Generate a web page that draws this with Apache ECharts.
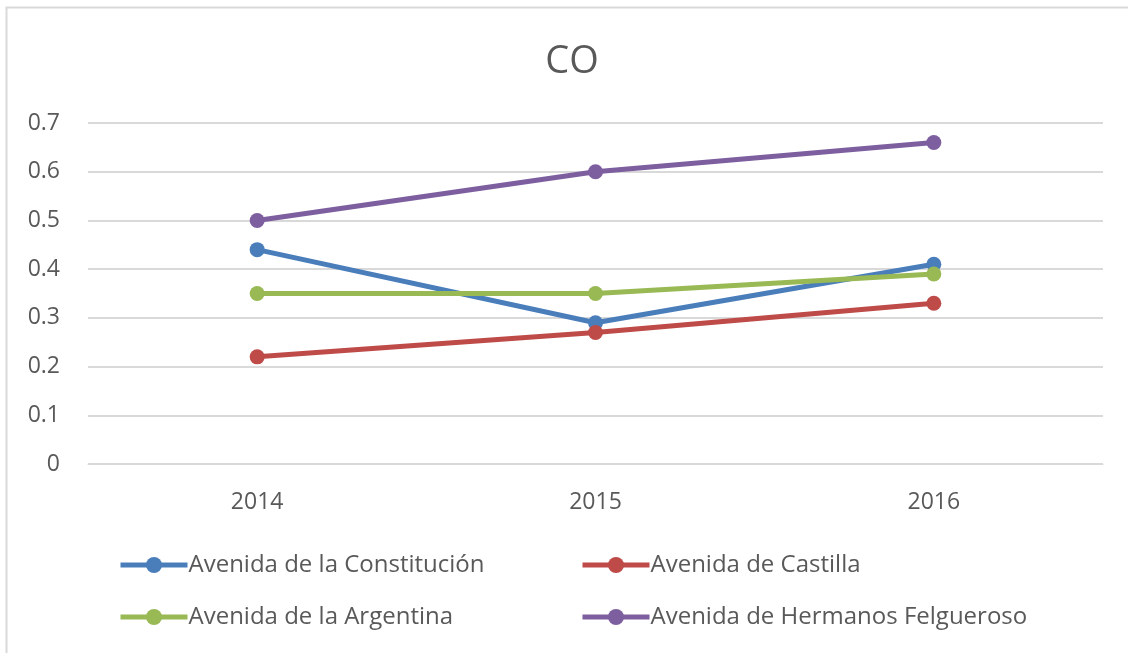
<!DOCTYPE html>
<html>
<head>
<meta charset="utf-8">
<title>CO</title>
<script src="https://cdn.jsdelivr.net/npm/echarts@6/dist/echarts.min.js"></script>
<style>
  html, body { margin: 0; padding: 0; background: #fff; }
  #chart { width: 1128px; height: 653px; }
</style>
</head>
<body>
<div id="chart"></div>
<script>
// datos
const years = ['2014', '2015', '2016'];
const seriesNames = [
  'Avenida de la Constitución',
  'Avenida de Castilla',
  'Avenida de la Argentina',
  'Avenida de Hermanos Felgueroso'
];
const constitucion = [0.44, 0.29, 0.41];
const castilla = [0.22, 0.27, 0.33];
const argentina = [0.35, 0.35, 0.39];
const felgueroso = [0.50, 0.60, 0.66];
const colors = ['#4a7ebb', '#be4b48', '#98b954', '#7d5fa0'];

const chart = echarts.init(document.getElementById('chart'));
const font = 'Open Sans';
const txt = '#595959';

// una leyenda por elemento, para colocarlas en dos columnas
const legendPos = [[113, 548], [575, 548], [113, 600], [575, 600]];
const legends = seriesNames.map((name, i) => ({
  data: [name],
  left: legendPos[i][0],
  top: legendPos[i][1],
  itemWidth: 67,
  itemHeight: 20,
  itemGap: 0,
  lineStyle: { width: 5 },
  textStyle: { color: txt, fontSize: 24, fontFamily: font, padding: [0, 0, 0, -4] }
}));

const values = [constitucion, castilla, argentina, felgueroso];

chart.setOption({
  animation: false,
  color: colors,
  graphic: [{
    type: 'rect',
    shape: { x: 6.5, y: 7.5, width: 1200, height: 800 },
    style: { fill: 'none', stroke: '#d9d9d9', lineWidth: 2 },
    silent: true
  }],
  title: {
    text: 'CO',
    left: 567,
    top: 38,
    textAlign: 'center',
    textStyle: { color: txt, fontSize: 38, fontWeight: 'normal', fontFamily: font }
  },
  legend: legends,
  grid: { left: 88, right: 25, top: 123, bottom: 189 },
  xAxis: {
    type: 'category',
    data: years,
    boundaryGap: true,
    axisLine: { lineStyle: { color: '#d9d9d9', width: 1 } },
    axisTick: { show: false },
    axisLabel: { color: txt, fontSize: 23, fontFamily: font, margin: 27 }
  },
  yAxis: {
    type: 'value',
    min: 0,
    max: 0.7,
    interval: 0.1,
    axisLine: { show: false },
    axisTick: { show: false },
    splitLine: { lineStyle: { color: '#d9d9d9', width: 2 } },
    axisLabel: { color: txt, fontSize: 23, fontFamily: font, margin: 28 }
  },
  series: seriesNames.map((name, i) => ({
    name: name,
    type: 'line',
    data: values[i],
    symbol: 'circle',
    symbolSize: 15,
    lineStyle: { width: 5, color: colors[i] },
    itemStyle: { color: colors[i] }
  }))
});
</script>
</body>
</html>
